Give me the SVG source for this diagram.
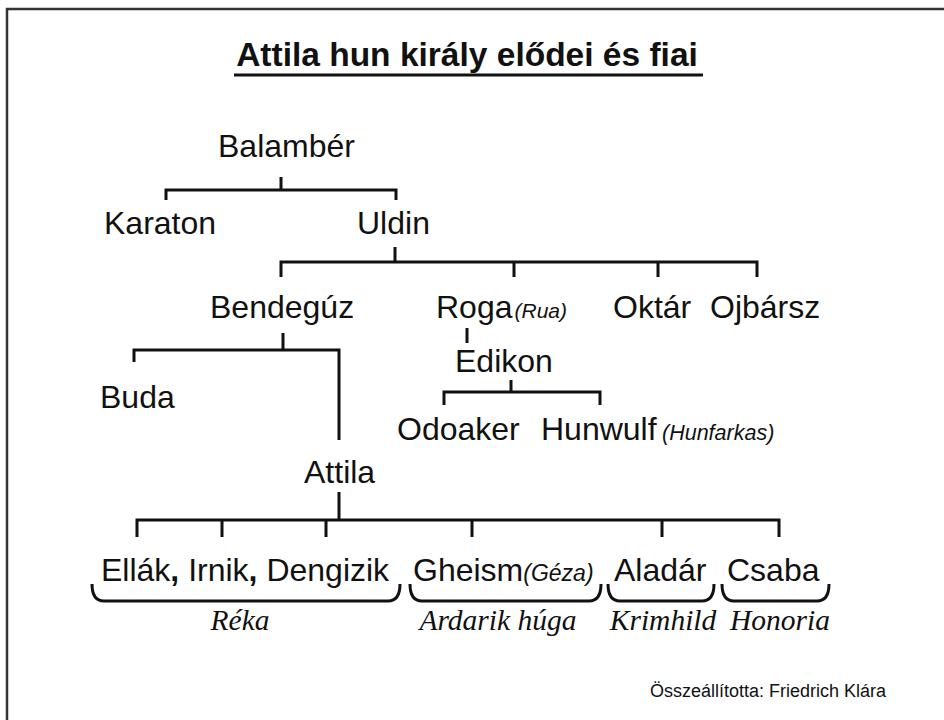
<svg xmlns="http://www.w3.org/2000/svg" width="944" height="720" viewBox="0 0 944 720">
<style>
.n{font-family:"Liberation Sans",Arial,sans-serif;font-size:32px;fill:#111}
.s{font-family:"Liberation Sans",Arial,sans-serif;font-style:italic;fill:#111}
.w{font-family:"Liberation Serif","Times New Roman",serif;font-style:italic;font-size:29.5px;fill:#111;text-anchor:middle}
.c{fill:none;stroke:#111;stroke-width:3}
</style>
<rect x="0" y="0" width="944" height="720" fill="#fff"/>
<path d="M7,720 V9 H944" fill="none" stroke="#333" stroke-width="2.5"/>
<g id="title">
<text x="467" y="66" text-anchor="middle" font-family="Liberation Sans,Arial,sans-serif" font-weight="bold" font-size="33.5" fill="#111">Attila hun király elődei és fiai</text>
<line x1="234" y1="75" x2="703" y2="75" stroke="#111" stroke-width="3"/>
</g>
<g id="connectors" class="c">
<path d="M281,177 V190 M166,200 V190 H396 V200"/>
<path d="M395,247 V262 M281,277 V262 H757 V277 M514,262 V277 M658,262 V277"/>
<path d="M283,333 V350 M134,362 V350 H339 V440"/>
<path d="M467,328 V343"/>
<path d="M511,380 V392 M444,405 V392 H600 V405"/>
<path d="M339,492 V520 M137,537 V520 H779 V537 M222,520 V537 M326,520 V537 M472,520 V537 M662,520 V537"/>
<path d="M92,584 Q92,601 104,601 H388 Q400,601 400,584"/>
<path d="M410,584 Q410,601 422,601 H589 Q601,601 601,584"/>
<path d="M608,584 Q608,601 620,601 H702 Q714,601 714,584"/>
<path d="M722,584 Q722,601 734,601 H817 Q829,601 829,584"/>
</g>
<g id="balamber"><text class="n" x="218" y="157">Balambér</text></g>
<g id="karaton"><text class="n" x="104" y="234">Karaton</text></g>
<g id="uldin"><text class="n" x="357" y="234">Uldin</text></g>
<g id="bendeguz"><text class="n" x="210" y="318">Bendegúz</text></g>
<g id="roga"><text class="n" x="436" y="318">Roga<tspan class="s" font-size="21" dx="2">(Rua)</tspan></text></g>
<g id="oktar"><text class="n" x="613" y="318">Oktár</text></g>
<g id="ojbarsz"><text class="n" x="710" y="318">Ojbársz</text></g>
<g id="edikon"><text class="n" x="455" y="372">Edikon</text></g>
<g id="buda"><text class="n" x="100" y="408">Buda</text></g>
<g id="odoaker"><text class="n" x="397" y="440">Odoaker</text></g>
<g id="hunwulf"><text class="n" x="541" y="440">Hunwulf</text><text class="s" x="662" y="440" font-size="21.5">(Hunfarkas)</text></g>
<g id="attila"><text class="n" x="304" y="483">Attila</text></g>
<g id="ellak-irnik-dengizik"><text class="n" x="101" y="581">Ellák<tspan font-weight="bold">,</tspan> Irnik<tspan font-weight="bold">,</tspan> Dengizik</text></g>
<g id="gheism"><text class="n" x="413" y="581">Gheism<tspan class="s" font-size="23">(Géza)</tspan></text></g>
<g id="aladar"><text class="n" x="614" y="581">Aladár</text></g>
<g id="csaba"><text class="n" x="727" y="581">Csaba</text></g>
<g id="reka"><text class="w" x="240" y="630">Réka</text></g>
<g id="ardarik"><text class="w" x="498" y="630">Ardarik húga</text></g>
<g id="krimhild"><text class="w" x="663" y="630">Krimhild</text></g>
<g id="honoria"><text class="w" x="780" y="630">Honoria</text></g>
<g id="footer"><text x="650" y="697" font-family="Liberation Sans,Arial,sans-serif" font-size="18" fill="#111">Összeállította: Friedrich Klára</text></g>
</svg>
